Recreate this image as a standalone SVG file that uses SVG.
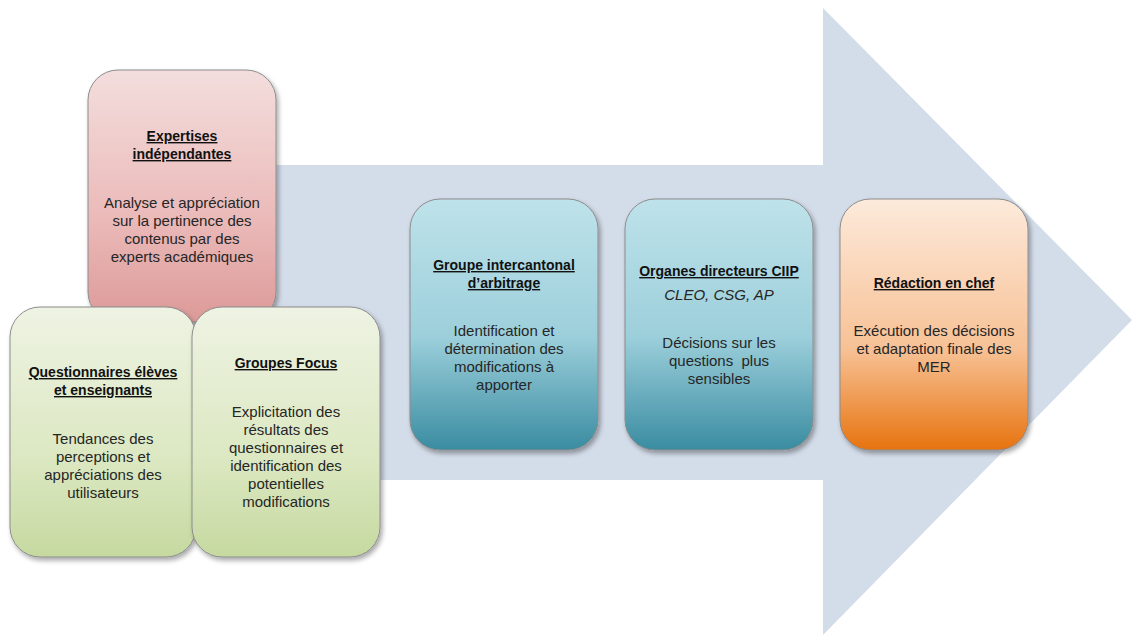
<svg xmlns="http://www.w3.org/2000/svg" width="1132" height="635" viewBox="0 0 1132 635">
<defs>
<linearGradient id="gPink" x1="0" y1="0" x2="0" y2="1"><stop offset="0" stop-color="#f3dedd"/><stop offset="0.6" stop-color="#eab9b8"/><stop offset="1" stop-color="#dc9a98"/></linearGradient>
<linearGradient id="gGreen" x1="0" y1="0" x2="0" y2="1"><stop offset="0" stop-color="#eef3e3"/><stop offset="0.6" stop-color="#dce8c2"/><stop offset="1" stop-color="#c6d9a0"/></linearGradient>
<linearGradient id="gBlue" x1="0" y1="0" x2="0" y2="1"><stop offset="0" stop-color="#bee2ea"/><stop offset="0.55" stop-color="#9ccfdb"/><stop offset="1" stop-color="#3a8ca1"/></linearGradient>
<linearGradient id="gOrange" x1="0" y1="0" x2="0" y2="1"><stop offset="0" stop-color="#fdeadb"/><stop offset="0.6" stop-color="#f7c195"/><stop offset="1" stop-color="#e7730f"/></linearGradient>
<filter id="sh" x="-10%" y="-10%" width="125%" height="125%"><feGaussianBlur in="SourceAlpha" stdDeviation="2.5"/><feOffset dx="2" dy="3"/><feComponentTransfer><feFuncA type="linear" slope="0.35"/></feComponentTransfer><feMerge><feMergeNode/><feMergeNode in="SourceGraphic"/></feMerge></filter>
</defs>
<style>
.box{stroke:#8c8c8c;stroke-width:1;filter:url(#sh)}
text{font-family:"Liberation Sans",Arial,sans-serif;font-size:15px;fill:#262626;text-anchor:middle}
.t{font-size:14px;font-weight:bold;text-decoration:underline;fill:#111}
.i{font-style:italic}
</style>
<rect width="1132" height="635" fill="#ffffff"/>
<g id="connectors">
<polygon points="200,165 823,165 823,8 1132,320 823,635 823,480 200,480" fill="#d3dce9"/>
</g>
<g id="n-expertises">
<rect class="box" x="88" y="70" width="188" height="252" rx="30" fill="url(#gPink)"/>
<text class="t" x="182" y="141">Expertises</text>
<text class="t" x="182" y="159">indépendantes</text>
<text x="182" y="208">Analyse et appréciation</text>
<text x="182" y="226">sur la pertinence des</text>
<text x="182" y="244">contenus par des</text>
<text x="182" y="262">experts académiques</text>
</g>
<g id="n-questionnaires">
<rect class="box" x="10" y="307" width="186" height="250" rx="30" fill="url(#gGreen)"/>
<text class="t" x="103" y="377">Questionnaires élèves</text>
<text class="t" x="103" y="395">et enseignants</text>
<text x="103" y="444">Tendances des</text>
<text x="103" y="462">perceptions et</text>
<text x="103" y="480">appréciations des</text>
<text x="103" y="498">utilisateurs</text>
</g>
<g id="n-focus">
<rect class="box" x="192" y="307" width="188" height="250" rx="30" fill="url(#gGreen)"/>
<text class="t" x="286" y="368">Groupes Focus</text>
<text x="286" y="417">Explicitation des</text>
<text x="286" y="435">résultats des</text>
<text x="286" y="453">questionnaires et</text>
<text x="286" y="471">identification des</text>
<text x="286" y="489">potentielles</text>
<text x="286" y="507">modifications</text>
</g>
<g id="n-groupe">
<rect class="box" x="410" y="199" width="188" height="251" rx="30" fill="url(#gBlue)"/>
<text class="t" x="504" y="270">Groupe intercantonal</text>
<text class="t" x="504" y="288">d’arbitrage</text>
<text x="504" y="336">Identification et</text>
<text x="504" y="354">détermination des</text>
<text x="504" y="372">modifications à</text>
<text x="504" y="390">apporter</text>
</g>
<g id="n-organes">
<rect class="box" x="625" y="199" width="188" height="251" rx="30" fill="url(#gBlue)"/>
<text class="t" x="719" y="276">Organes directeurs CIIP</text>
<text class="i" x="719" y="300">CLEO, CSG, AP</text>
<text x="719" y="348">Décisions sur les</text>
<text x="719" y="366" xml:space="preserve">questions  plus</text>
<text x="719" y="384">sensibles</text>
</g>
<g id="n-redaction">
<rect class="box" x="840" y="199" width="188" height="251" rx="30" fill="url(#gOrange)"/>
<text class="t" x="934" y="288">Rédaction en chef</text>
<text x="934" y="336">Exécution des décisions</text>
<text x="934" y="354">et adaptation finale des</text>
<text x="934" y="372">MER</text>
</g>
</svg>
